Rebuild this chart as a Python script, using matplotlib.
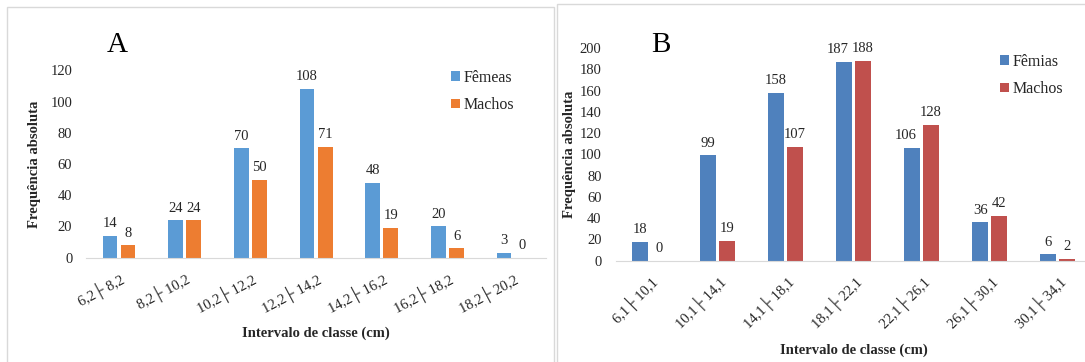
import matplotlib
matplotlib.use("Agg")
import matplotlib.pyplot as plt
from matplotlib.patches import Rectangle
import numpy as np

plt.rcParams["font.family"] = ["Liberation Serif", "DejaVu Serif"]

# panel A
classes_a = ["6,2├ 8,2", "8,2├ 10,2", "10,2├ 12,2", "12,2├ 14,2",
             "14,2├ 16,2", "16,2├ 18,2", "18,2├ 20,2"]
femeas_a = [14, 24, 70, 108, 48, 20, 3]
machos_a = [8, 24, 50, 71, 19, 6, 0]

# panel B
classes_b = ["6,1├ 10,1", "10,1├ 14,1", "14,1├ 18,1", "18,1├ 22,1",
             "22,1├ 26,1", "26,1├ 30,1", "30,1├ 34,1"]
femeas_b = [18, 99, 158, 187, 106, 36, 6]
machos_b = [0, 19, 107, 188, 128, 42, 2]

W, H = 1085, 362
fig = plt.figure(figsize=(W / 100, H / 100), dpi=100)
TXT = "#262626"


def px_axes(left, right, bottom, top):
    # pixel box (top-left origin) -> figure fraction
    return fig.add_axes([left / W, (H - bottom) / H, (right - left) / W, (bottom - top) / H])


def panel(ax, classes, fem, mac, colors, labels, ymax, ystep, rot, xlab_y, ylab_x, leg_xy,
          nudge=()):
    x = np.arange(len(classes))
    w, off = 0.225, 0.138
    b1 = ax.bar(x - off, fem, w, color=colors[0], label=labels[0])
    b2 = ax.bar(x + off, mac, w, color=colors[1], label=labels[1])
    for k, r in enumerate(b1):
        # excel pushes a few labels sideways when they crowd their neighbour
        dx = -4.5 if k in nudge else 0
        ax.annotate(f"{int(r.get_height())}", (r.get_x() + r.get_width() / 2, r.get_height()),
                    xytext=(dx, 4), textcoords="offset points", ha="center", va="bottom",
                    fontsize=10.5, color=TXT)
    for r in b2:
        ax.annotate(f"{int(r.get_height())}", (r.get_x() + r.get_width() / 2, r.get_height()),
                    xytext=(0, 4), textcoords="offset points", ha="center", va="bottom",
                    fontsize=10.5, color=TXT)
    ax.set_ylim(0, ymax)
    ax.set_yticks(np.arange(0, ymax + 1, ystep))
    ax.set_xlim(-0.5, len(classes) - 0.5)
    ax.set_xticks(x, classes, rotation=rot, ha="right", rotation_mode="anchor", va="top")
    ax.tick_params(axis="both", length=0, labelsize=10.5, colors=TXT)
    ax.tick_params(axis="y", pad=10)
    ax.tick_params(axis="x", pad=9)
    for s in ("top", "right", "left"):
        ax.spines[s].set_visible(False)
    ax.spines["bottom"].set_color("#d9d9d9")
    ax.set_xlabel("Intervalo de classe (cm)", fontsize=10.5, fontweight="bold", color=TXT)
    ax.xaxis.set_label_coords(0.5, xlab_y)
    ax.xaxis.label.set_va("center")
    ax.set_ylabel("Frequência absoluta", fontsize=10.5, fontweight="bold", color=TXT)
    ax.yaxis.set_label_coords(ylab_x, 0.5)
    ax.yaxis.label.set_va("center")
    ax.legend(loc="center left", bbox_to_anchor=(leg_xy[0] / W, (H - leg_xy[1]) / H),
              bbox_transform=fig.transFigure, frameon=False, fontsize=11.5,
              handlelength=0.55, handleheight=0.55, handletextpad=0.25,
              labelspacing=0.7, borderpad=0, borderaxespad=0, labelcolor=TXT)


axA = px_axes(86.2, 546, 257.7, 70.3)
panel(axA, classes_a, femeas_a, machos_a, ["#5B9BD5", "#ED7D31"], ["Fêmeas", "Machos"],
      120, 20, 28, (257.7 - 333) / 187.4, (35 - 86.2) / 459.8, (451, 91.5))

axB = px_axes(615.5, 1091.5, 260.7, 48.1)
panel(axB, classes_b, femeas_b, machos_b, ["#4F81BD", "#C0504D"], ["Fêmias", "Machos"],
      200, 20, 45, (260.7 - 350) / 212.6, (569 - 615.5) / 476, (1000, 75.5), nudge=(3, 4))

fig.text(117.5 / W, (H - 52) / H, "A", fontsize=21, ha="center", va="baseline", color="black")
fig.text(661 / W, (H - 52) / H, "B", fontsize=21, ha="center", va="baseline", color="black")

# panel frames
fig.add_artist(Rectangle((7 / W, -0.02), (554 - 7) / W, (H - 7) / H + 0.02,
                         transform=fig.transFigure, fill=False, ec="#d9d9d9", lw=1))
fig.add_artist(Rectangle((557 / W, -0.02), (1095 - 557) / W, (H - 4) / H + 0.02,
                         transform=fig.transFigure, fill=False, ec="#d9d9d9", lw=1))

fig.savefig("out.png", dpi=100)
